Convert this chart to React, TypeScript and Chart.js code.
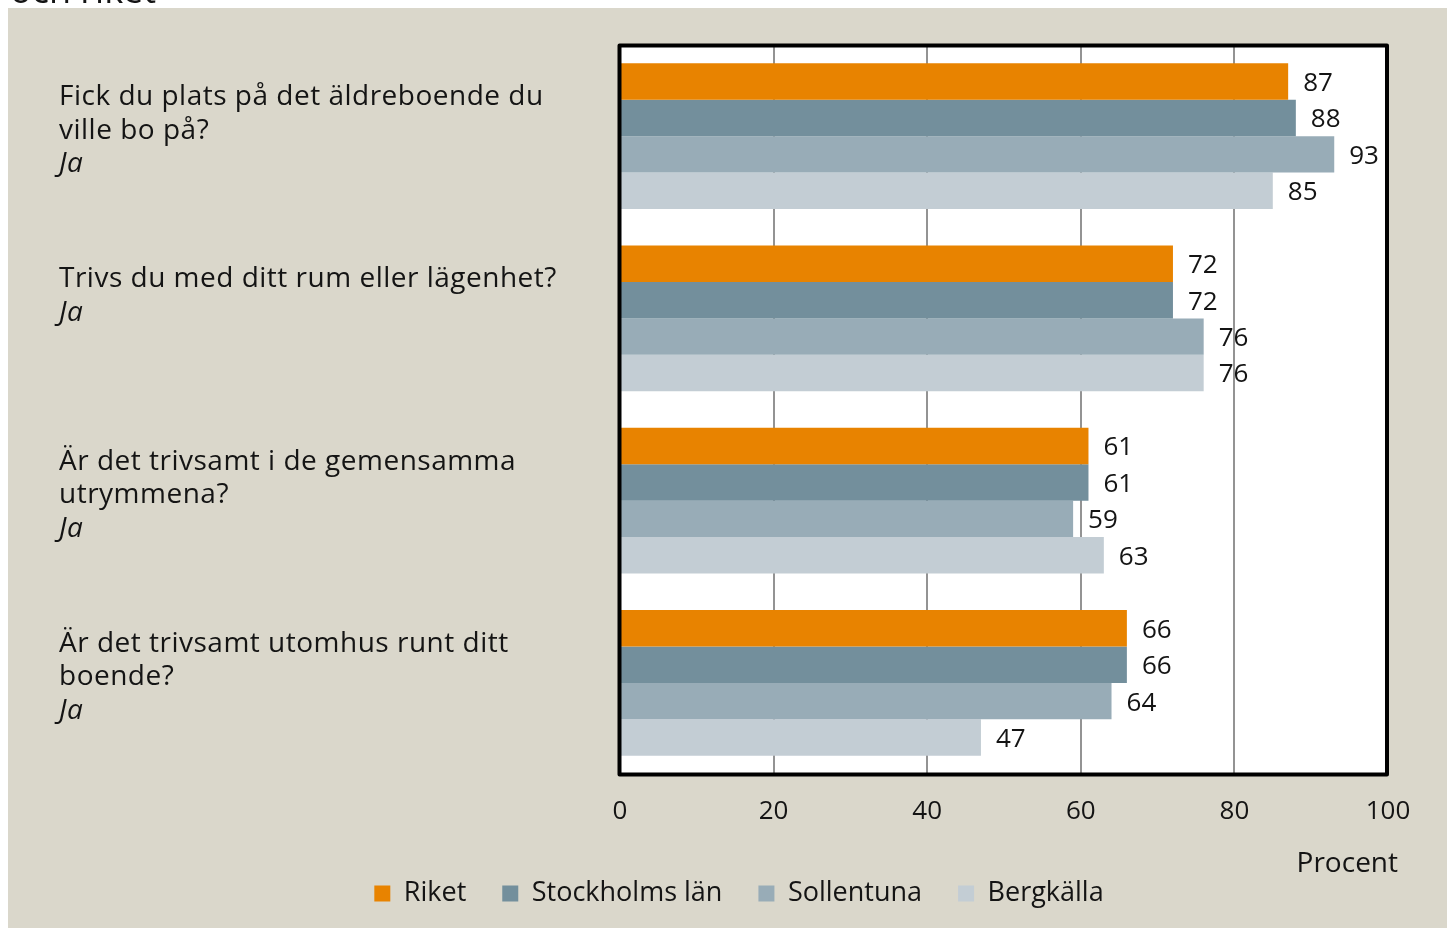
import React, { useEffect, useRef } from 'react';
import { Chart, registerables } from 'chart.js';

Chart.register(...registerables);

// ---- Data ----
const categories = [
  'Fick du plats på det äldreboende du ville bo på?',
  'Trivs du med ditt rum eller lägenhet?',
  'Är det trivsamt i de gemensamma utrymmena?',
  'Är det trivsamt utomhus runt ditt boende?',
];
const categoryLines = [
  ['Fick du plats på det äldreboende du', 'ville bo på?'],
  ['Trivs du med ditt rum eller lägenhet?'],
  ['Är det trivsamt i de gemensamma', 'utrymmena?'],
  ['Är det trivsamt utomhus runt ditt', 'boende?'],
];
const answerLabel = 'Ja';
const seriesNames = ['Riket', 'Stockholms län', 'Sollentuna', 'Bergkälla'];
const riket = [87, 72, 61, 66];
const stockholmsLan = [88, 72, 61, 66];
const sollentuna = [93, 76, 59, 64];
const bergkalla = [85, 76, 63, 47];
const xMin = 0;
const xMax = 100;
const xStep = 20;
const axisTitle = 'Procent';
const headingText = 'och riket';

// ---- Styles ----
const FONT = '"Open Sans", "DejaVu Sans", sans-serif';
const TEXT = '#141414';
const BG = '#DAD7CB';
const COLORS = ['#E88300', '#738F9C', '#98ACB7', '#C3CDD4'];
const CANVAS_W = 1439;
const CANVAS_H = 920;

const decorPlugin = {
  id: 'decor',
  beforeDraw(chart: any) {
    const { ctx, chartArea, width, height } = chart;
    ctx.save();
    ctx.fillStyle = BG;
    ctx.fillRect(0, 0, width, height);
    ctx.fillStyle = '#ffffff';
    ctx.fillRect(chartArea.left, chartArea.top, chartArea.right - chartArea.left, chartArea.bottom - chartArea.top);
    ctx.restore();
  },
  afterDatasetsDraw(chart: any) {
    const { ctx, chartArea } = chart;
    ctx.save();
    // frame
    ctx.strokeStyle = '#000000';
    ctx.lineWidth = 4;
    ctx.lineJoin = 'round';
    ctx.strokeRect(chartArea.left - 0.5, chartArea.top + 0.5, chartArea.right - chartArea.left - 0.5, chartArea.bottom - chartArea.top);

    // value labels
    ctx.fillStyle = TEXT;
    ctx.font = `26px ${FONT}`;
    ctx.textAlign = 'left';
    ctx.textBaseline = 'middle';
    chart.data.datasets.forEach((ds: any, di: number) => {
      const meta = chart.getDatasetMeta(di);
      meta.data.forEach((bar: any, i: number) => {
        ctx.fillText(String(ds.data[i]), bar.x + 15, bar.y + 2);
      });
    });

    // category labels
    const yScale = chart.scales.y;
    (ctx as any).letterSpacing = '0.5px';
    categoryLines.forEach((lines, i) => {
      const yc = yScale.getPixelForValue(i);
      const all = [...lines, answerLabel];
      all.forEach((line, k) => {
        const isAnswer = k === all.length - 1;
        ctx.font = `${isAnswer ? 'italic ' : ''}28px ${FONT}`;
        ctx.fillText(line, 51, yc - 39 + k * 33.5);
      });
    });
    (ctx as any).letterSpacing = '0px';

    // axis title
    ctx.font = `28px ${FONT}`;
    ctx.textAlign = 'right';
    ctx.fillText(axisTitle, chartArea.right + 10, 856);
    ctx.restore();
  },
};

export default function App() {
  const ref = useRef<HTMLCanvasElement>(null);
  useEffect(() => {
    document.documentElement.style.overflow = 'hidden';
    const datasetsValues = [riket, stockholmsLan, sollentuna, bergkalla];
    const chart = new Chart(ref.current as HTMLCanvasElement, {
      type: 'bar',
      data: {
        labels: categories,
        datasets: seriesNames.map((name, i) => ({
          label: name,
          data: datasetsValues[i],
          backgroundColor: COLORS[i],
          borderWidth: 0,
          categoryPercentage: 0.8,
          barPercentage: 1,
        })),
      },
      options: {
        indexAxis: 'y',
        responsive: false,
        animation: false,
        devicePixelRatio: 1,
        layout: { padding: { left: 82, right: 59, top: 37, bottom: 11 } },
        plugins: {
          legend: {
            position: 'bottom',
            labels: {
              boxWidth: 16,
              boxHeight: 16,
              padding: 36,
              color: TEXT,
              font: { family: FONT, size: 27 },
            },
          },
          tooltip: { enabled: false },
        },
        scales: {
          x: {
            min: xMin,
            max: xMax,
            ticks: { stepSize: xStep, padding: 22, color: TEXT, font: { family: FONT, size: 26 } },
            grid: {
              color: (c: any) => (c.tick && (c.tick.value === xMin || c.tick.value === xMax) ? 'rgba(0,0,0,0)' : '#939393'),
              lineWidth: 2,
              drawTicks: false,
            },
            border: { display: false },
            afterFit: (s: any) => { s.height = 70; },
          },
          y: {
            ticks: { display: false },
            grid: { display: false },
            border: { display: false },
            afterFit: (s: any) => { s.width = 530; },
          },
        },
      } as any,
      plugins: [decorPlugin],
    });
    return () => chart.destroy();
  }, []);

  return (
    <div style={{ position: 'fixed', left: 8, top: 8, width: CANVAS_W, height: CANVAS_H }}>
      <div
        style={{
          position: 'absolute',
          left: 2,
          top: -36,
          fontFamily: FONT,
          fontSize: 36,
          lineHeight: '36px',
          color: TEXT,
          whiteSpace: 'nowrap',
        }}
      >
        {headingText}
      </div>
      <canvas
        ref={ref}
        width={CANVAS_W}
        height={CANVAS_H}
        style={{ position: 'relative', display: 'block', width: CANVAS_W, height: CANVAS_H }}
      />
    </div>
  );
}
